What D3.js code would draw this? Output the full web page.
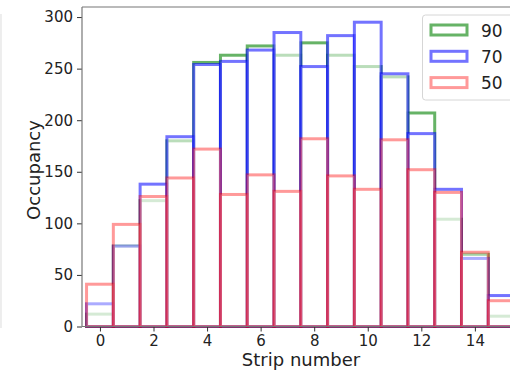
<!DOCTYPE html>
<html>
<head>
<meta charset="utf-8">
<script src="https://cdn.jsdelivr.net/npm/d3@7"></script>
<style>
  html, body { margin: 0; padding: 0; background: #fff; }
  svg { display: block; font-family: "DejaVu Sans", sans-serif; }
</style>
</head>
<body>
<svg id="chart" width="510" height="370"></svg>
<script>
// strip numbers 0..15
const strips = d3.range(0, 16);
const occ90 = [12, 78, 122, 180, 256, 263, 272, 263, 275, 263, 252, 242, 207, 104, 70, 10];
const occ70 = [22, 78, 138, 184, 254, 257, 268, 285, 252, 282, 295, 245, 187, 133, 66, 30];
const occ50 = [41, 99, 126, 144, 172, 128, 147, 131, 182, 146, 133, 181, 152, 130, 72, 25];
const seriesNames = ["90", "70", "50"];
const xTicks = [0, 2, 4, 6, 8, 10, 12, 14];
const yTicks = [0, 50, 100, 150, 200, 250, 300];

const series = [
    { name: seriesNames[0], values: occ90, color: "#008000", alpha: 0.6 },
    { name: seriesNames[1], values: occ70, color: "#0000ff", alpha: 0.55 },
    { name: seriesNames[2], values: occ50, color: "#ff0000", alpha: 0.4 }
];

const svg = d3.select("#chart");
const L = 82, T = 7, B = 326.5, R = 533;

const x = d3.scaleLinear().domain([-0.67, 16.17]).range([L, R]);
const y = d3.scaleLinear().domain([0, 309.75]).range([B, T]);

// faint edge line of a neighbouring panel
svg.append("line")
    .attr("x1", 1).attr("x2", 1).attr("y1", 14).attr("y2", 328)
    .attr("stroke", "#e2e2e2").attr("stroke-width", 1.2);

svg.append("clipPath").attr("id", "clip")
    .append("rect").attr("x", L).attr("y", T - 2).attr("width", R - L).attr("height", B - T + 4);

const plot = svg.append("g").attr("clip-path", "url(#clip)");

series.forEach(s => {
    plot.append("g")
        .selectAll("rect")
        .data(strips)
        .join("rect")
        .attr("x", d => x(d - 0.5))
        .attr("width", d => x(d + 0.5) - x(d - 0.5))
        .attr("y", d => y(s.values[d]))
        .attr("height", d => y(0) - y(s.values[d]))
        .attr("fill", "#fff")
        .attr("fill-opacity", s.alpha)
        .attr("stroke", s.color)
        .attr("stroke-opacity", s.alpha)
        .attr("stroke-width", 3);
});

// axes
const xAxis = svg.append("g")
    .attr("transform", `translate(0,${B})`)
    .call(d3.axisBottom(x).tickValues(xTicks).tickSize(5).tickPadding(3.5).tickFormat(d3.format("d")));
const yAxis = svg.append("g")
    .attr("transform", `translate(${L},0)`)
    .call(d3.axisLeft(y).tickValues(yTicks).tickSize(5).tickPadding(4).tickFormat(d3.format("d")));

[xAxis, yAxis].forEach(g => {
    g.selectAll(".domain").remove();
    g.selectAll(".tick line").attr("stroke", "#333").attr("stroke-width", 1);
    g.selectAll(".tick text")
        .attr("font-family", "DejaVu Sans, sans-serif")
        .attr("font-size", "15px")
        .attr("fill", "#222");
});

// spines
svg.append("line").attr("x1", L).attr("x2", 510).attr("y1", T).attr("y2", T)
    .attr("stroke", "#777").attr("stroke-width", 1.2);
svg.append("line").attr("x1", L).attr("x2", L).attr("y1", T).attr("y2", B)
    .attr("stroke", "#777").attr("stroke-width", 1.2);
svg.append("line").attr("x1", L).attr("x2", 510).attr("y1", B).attr("y2", B)
    .attr("stroke", "#777").attr("stroke-width", 1.2);

// axis labels
svg.append("text")
    .attr("x", 301).attr("y", 366)
    .attr("text-anchor", "middle")
    .attr("font-size", "18px").attr("fill", "#222")
    .text("Strip number");
svg.append("text")
    .attr("transform", "translate(40,170) rotate(-90)")
    .attr("text-anchor", "middle")
    .attr("font-size", "18px").attr("fill", "#222")
    .text("Occupancy");

// legend
const lg = svg.append("g");
lg.append("rect")
    .attr("x", 422.5).attr("y", 15).attr("width", 100).attr("height", 85)
    .attr("rx", 3)
    .attr("fill", "#fff").attr("fill-opacity", 0.85)
    .attr("stroke", "#d6d6d6").attr("stroke-width", 1);

const item = lg.selectAll("g.item")
    .data(series)
    .join("g")
    .attr("class", "item")
    .attr("transform", (d, i) => `translate(0,${30 + i * 26.3})`);

item.append("rect")
    .attr("x", 431).attr("y", -5).attr("width", 36).attr("height", 10)
    .attr("fill", "#fff")
    .attr("stroke", d => d.color)
    .attr("stroke-opacity", d => d.alpha)
    .attr("stroke-width", 3);

item.append("text")
    .attr("x", 481).attr("y", 6.5)
    .attr("font-size", "17px").attr("fill", "#222")
    .text(d => d.name);
</script>
</body>
</html>
